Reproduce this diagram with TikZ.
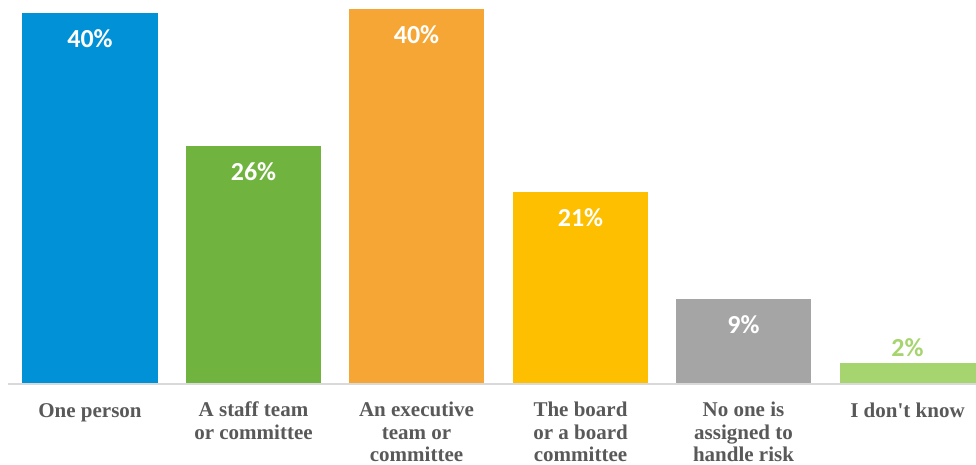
\documentclass[tikz,border=0pt]{standalone}
\usepackage{fontspec}
\setmainfont{Liberation Serif}
\newfontfamily\pctfont{Carlito}
\usetikzlibrary{positioning}

\definecolor{barblue}{HTML}{0091D7}
\definecolor{bargreen}{HTML}{70B43F}
\definecolor{barorange}{HTML}{F6A635}
\definecolor{baryellow}{HTML}{FDBF00}
\definecolor{bargray}{HTML}{A5A5A5}
\definecolor{barlight}{HTML}{A6D46E}
\definecolor{axisgray}{HTML}{D9D9D9}
\definecolor{labelgray}{HTML}{595959}

\begin{document}
\begin{tikzpicture}[x=1pt, y=-1pt,
        pct/.style={font=\pctfont\bfseries\fontsize{26}{30}\selectfont, text=white, inner sep=0pt},
        cat/.style={font=\bfseries\fontsize{21}{22.5}\selectfont, text=labelgray, align=center,
            anchor=north, inner sep=0pt, execute at begin node=\strut}]
        \useasboundingbox (0,0) rectangle (976,465);

        % Bars
        \fill[barblue] (22,13) rectangle (158,384);
        \fill[bargreen] (186,146) rectangle (321,384);
        \fill[barorange] (349,9) rectangle (484,384);
        \fill[baryellow] (513,192) rectangle (648,384);
        \fill[bargray] (676,299) rectangle (811,384);
        \fill[barlight] (840,363) rectangle (976,384);

        % Axis
        \draw[axisgray, line width=1.5pt] (8,384) -- (976,384);

        % Values
        \node[pct] (vone) at (90,39) {40\%};
        \node[pct] (vstaff) at (253.5,172) {26\%};
        \node[pct] (vexec) at (416.5,35) {40\%};
        \node[pct] (vboard) at (580.5,218) {21\%};
        \node[pct] (vnone) at (743.5,325) {9\%};
        \node[pct, text=barlight] (vknow) at (907.5,348) {2\%};

        % Labels
        \node[cat] (cone) at (90,402) {One person};
        \node[cat] (cstaff) at (253.5,402) {A staff team\\or committee};
        \node[cat] (cexec) at (416.5,402) {An executive\\team or\\committee};
        \node[cat] (cboard) at (580.5,402) {The board\\or a board\\committee};
        \node[cat] (cnone) at (743.5,402) {No one is\\assigned to\\handle risk};
        \node[cat] (cknow) at (907.5,402) {I don\textquotesingle t know};
\end{tikzpicture}
\end{document}
